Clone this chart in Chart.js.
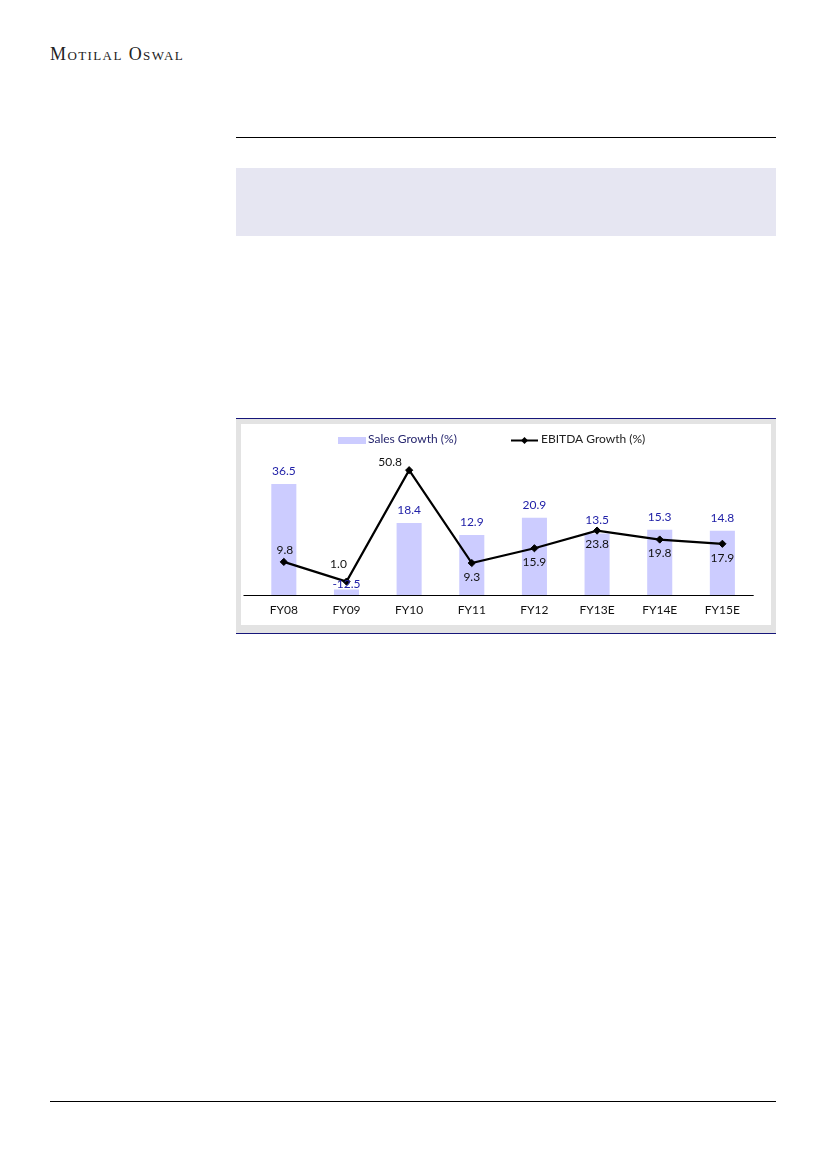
<!DOCTYPE html>
<html>
<head>
<meta charset="utf-8">
<script src="https://cdn.jsdelivr.net/npm/chart.js@4/dist/chart.umd.min.js"></script>
<style>
  html, body { margin: 0; padding: 0; background: #fff; }
  body { width: 826px; height: 1169px; position: relative; overflow: hidden; }
  .brand {
    position: absolute; left: 50px; top: 44px;
    font-family: "Liberation Serif", "DejaVu Serif", serif;
    font-size: 18px; font-variant: small-caps; letter-spacing: 1.4px;
    color: #222; line-height: 20px; white-space: nowrap;
  }
  .rule-top { position: absolute; left: 236px; top: 137px; width: 540px; height: 1px; background: #000; }
  .shade-box { position: absolute; left: 236px; top: 168px; width: 540px; height: 68px; background: #e6e6f2; }
  .rule-bottom { position: absolute; left: 50px; top: 1101px; width: 726px; height: 1px; background: #000; }
  .chart-frame {
    position: absolute; left: 236px; top: 418px; width: 540px; height: 216px;
    box-sizing: border-box; border-top: 1px solid #16167a; border-bottom: 1px solid #16167a;
    background: #e3e3e3;
  }
  .chart-inner {
    position: absolute; left: 5px; top: 5px; width: 530px; height: 201px; background: #fff;
  }
  canvas { display: block; }
</style>
</head>
<body>
<div class="brand">Motilal Oswal</div>
<div class="rule-top"></div>
<div class="shade-box"></div>

<div class="chart-frame">
  <div class="chart-inner"><canvas id="growth" width="530" height="201"></canvas></div>
</div>

<div class="rule-bottom"></div>

<script>
// Fiscal years and growth rates (%)
const categories = ['FY08', 'FY09', 'FY10', 'FY11', 'FY12', 'FY13E', 'FY14E', 'FY15E'];
const salesGrowth = [36.5, -12.5, 18.4, 12.9, 20.9, 13.5, 15.3, 14.8];
const ebitdaGrowth = [9.8, 1.0, 50.8, 9.3, 15.9, 23.8, 19.8, 17.9];

// Where each EBITDA value label sits relative to its marker
const ebitdaLabelSide = ['above', 'upperLeft', 'left', 'below', 'below', 'below', 'below', 'below'];

// Bars rise from the bottom of the sales axis
const SALES_AXIS_MIN = -15;
const SALES_AXIS_MAX = 50;
const EBITDA_AXIS_MIN = -5;
const EBITDA_AXIS_MAX = 57.6;

const FONT = 'Lato, "Open Sans", sans-serif';
const BAR_COLOR = '#ccccff';
const SALES_TEXT = '#2222a8';

const labelOffsets = {
  above: [1, -12],
  upperLeft: [-8, -17],
  left: [-19, -8],
  below: [0, 14]
};

const decorations = {
  id: 'decorations',
  afterDatasetsDraw(chart) {
    const ctx = chart.ctx;
    const area = chart.chartArea;
    ctx.save();

    // category axis line
    ctx.strokeStyle = '#000';
    ctx.lineWidth = 1;
    ctx.beginPath();
    ctx.moveTo(area.left - 9, area.bottom + 0.5);
    ctx.lineTo(area.right, area.bottom + 0.5);
    ctx.stroke();

    ctx.font = '12px ' + FONT;
    ctx.textAlign = 'center';
    ctx.textBaseline = 'middle';

    // sales value labels above the bars (a very short bar keeps its label low)
    const barMeta = chart.getDatasetMeta(1);
    ctx.fillStyle = SALES_TEXT;
    barMeta.data.forEach((bar, i) => {
      const lift = bar.base - bar.y < 10 ? 5 : 13;
      ctx.fillText(salesGrowth[i].toFixed(1), bar.x, bar.y - lift);
    });

    // EBITDA value labels around the markers
    const lineMeta = chart.getDatasetMeta(0);
    ctx.fillStyle = '#111';
    lineMeta.data.forEach((pt, i) => {
      const [dx, dy] = labelOffsets[ebitdaLabelSide[i]];
      ctx.fillText(ebitdaGrowth[i].toFixed(1), pt.x + dx, pt.y + dy);
    });

    // legend
    ctx.textAlign = 'left';
    ctx.fillStyle = BAR_COLOR;
    ctx.fillRect(97, 13, 28, 7);
    ctx.fillStyle = '#26266e';
    ctx.fillText('Sales Growth (%)', 127, 15.5);

    ctx.strokeStyle = '#000';
    ctx.lineWidth = 2;
    ctx.beginPath();
    ctx.moveTo(270, 16.5);
    ctx.lineTo(297, 16.5);
    ctx.stroke();
    ctx.fillStyle = '#000';
    ctx.beginPath();
    ctx.moveTo(283.5, 13);
    ctx.lineTo(287, 16.5);
    ctx.lineTo(283.5, 20);
    ctx.lineTo(280, 16.5);
    ctx.closePath();
    ctx.fill();
    ctx.fillStyle = '#222';
    ctx.fillText('EBITDA Growth (%)', 300, 15.5);

    ctx.restore();
  }
};

new Chart(document.getElementById('growth'), {
  type: 'bar',
  data: {
    labels: categories,
    datasets: [
      {
        type: 'line',
        label: 'EBITDA Growth (%)',
        data: ebitdaGrowth,
        yAxisID: 'y1',
        borderColor: '#000',
        borderWidth: 2.2,
        pointStyle: 'rectRot',
        pointRadius: 3.6,
        pointBackgroundColor: '#000',
        pointBorderColor: '#000',
        pointBorderWidth: 1,
        tension: 0,
        order: 0
      },
      {
        type: 'bar',
        label: 'Sales Growth (%)',
        data: salesGrowth,
        yAxisID: 'y',
        backgroundColor: BAR_COLOR,
        base: SALES_AXIS_MIN,
        barPercentage: 0.4,
        categoryPercentage: 1,
        order: 1
      }
    ]
  },
  options: {
    responsive: false,
    animation: false,
    devicePixelRatio: 1,
    layout: { padding: { top: 31, left: 11.5, right: 17.3, bottom: 0 } },
    plugins: { legend: { display: false }, tooltip: { enabled: false } },
    scales: {
      x: {
        grid: { display: false, drawTicks: false },
        border: { display: false },
        ticks: { color: '#111', font: { family: FONT, size: 12 }, padding: 8, maxRotation: 0 },
        afterFit(scale) { scale.height = 30; }
      },
      y: { display: false, min: SALES_AXIS_MIN, max: SALES_AXIS_MAX },
      y1: { display: false, position: 'right', min: EBITDA_AXIS_MIN, max: EBITDA_AXIS_MAX }
    }
  },
  plugins: [decorations]
});
</script>
</body>
</html>
